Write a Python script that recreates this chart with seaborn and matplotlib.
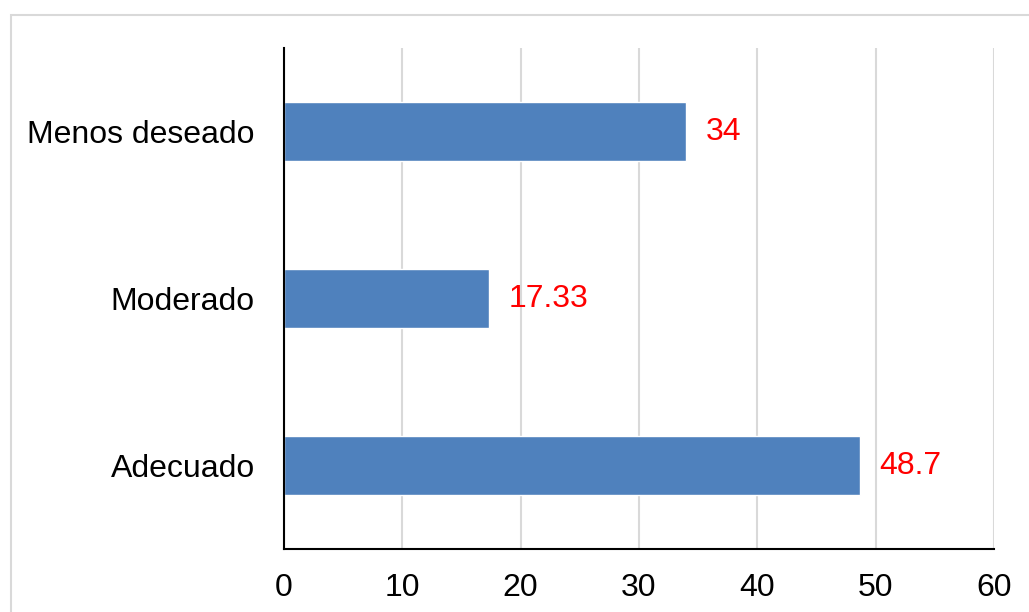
import matplotlib
matplotlib.use("Agg")
import matplotlib.pyplot as plt
import seaborn as sns
import pandas as pd
from matplotlib.patches import Rectangle

categories = ["Menos deseado", "Moderado", "Adecuado"]
values = [34, 17.33, 48.7]
value_labels = ["34", "17.33", "48.7"]
xticks = [0, 10, 20, 30, 40, 50, 60]

sns.set_theme(style="white")
plt.rcParams["font.family"] = ["Liberation Sans", "DejaVu Sans"]

df = pd.DataFrame({"cat": categories, "val": values})

fig = plt.figure(figsize=(10.29, 6.12), dpi=100)
ax = fig.add_axes([284/1029, 1-549/612, (994-284)/1029, (549-48)/612])

sns.barplot(data=df, y="cat", x="val", orient="h", color="#4F81BD",
            saturation=1, width=0.35, ax=ax)

ax.set_xlim(0, 60)
ax.set_xticks(xticks)
ax.set_xticklabels([str(t) for t in xticks])
ax.set_xlabel("")
ax.set_ylabel("")
ax.grid(axis="x", color="#d9d9d9", lw=1.5)
ax.set_axisbelow(True)
for s in ["top", "right"]:
    ax.spines[s].set_visible(False)
for s in ["left", "bottom"]:
    ax.spines[s].set_color("black")
    ax.spines[s].set_linewidth(1.5)
ax.tick_params(axis="x", length=0, pad=17, labelsize=23, colors="black")
ax.tick_params(axis="y", length=0, pad=21, labelsize=23, colors="black")

ax.bar_label(ax.containers[0], labels=value_labels, padding=14,
             color="red", fontsize=23)

fig.patches.append(Rectangle((11/1029, -0.1), 1.2, 1-15/612+0.1,
                             transform=fig.transFigure, fill=False,
                             edgecolor="#d9d9d9", lw=1.5, zorder=0))

fig.savefig("out.png", dpi=100, facecolor="white")
